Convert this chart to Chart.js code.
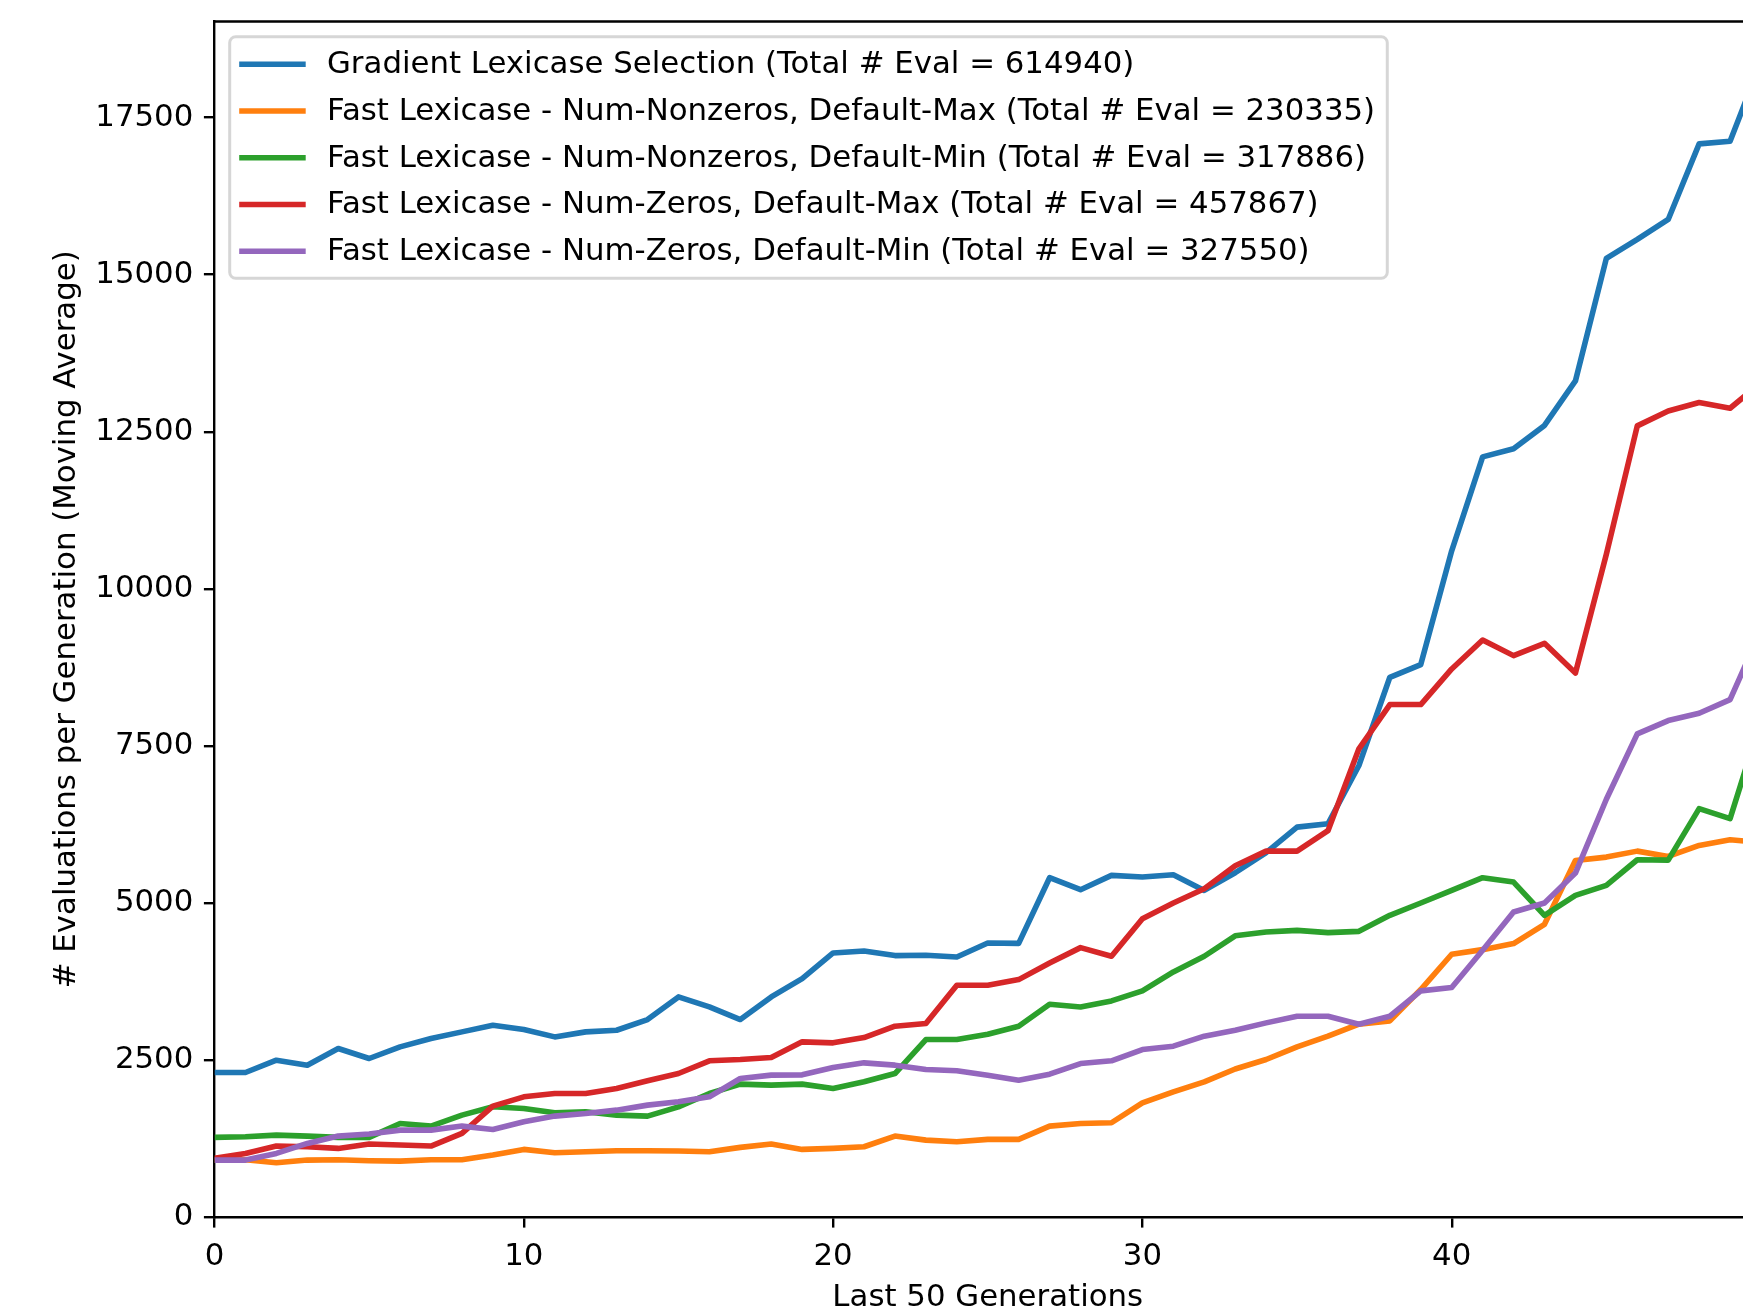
<!DOCTYPE html>
<html>
<head>
<meta charset="utf-8">
<title># Evaluations per Generation</title>
<script src="https://cdn.jsdelivr.net/npm/chart.js@4.4.0/dist/chart.umd.min.js"></script>
<style>
    html, body { margin: 0; padding: 0; background: #fff; overflow: hidden; }
    #wrap { width: 1743px; height: 1316px; overflow: hidden; position: relative; }
    canvas { display: block; }
</style>
</head>
<body>
<div id="wrap"><canvas id="evalChart" width="1800" height="1316"></canvas></div>
<script>
// Generations on the x axis (last 50 generations, the right end is cropped in the original)
const generations = [0, 1, 2, 3, 4, 5, 6, 7, 8, 9, 10, 11, 12, 13, 14, 15, 16, 17, 18, 19, 20,
    21, 22, 23, 24, 25, 26, 27, 28, 29, 30, 31, 32, 33, 34, 35, 36, 37, 38, 39, 40,
    41, 42, 43, 44, 45, 46, 47, 48, 49, 50];

// Series values (# evaluations per generation, moving average)
const gradientLexicase = [2300, 2300, 2496, 2417, 2682, 2523, 2708, 2841, 2947, 3053, 2984,
    2867, 2947, 2973, 3143, 3503, 3344, 3143, 3503, 3795, 4203,
    4235, 4161, 4166, 4139, 4362, 4356, 5401, 5210, 5438, 5411,
    5448, 5199, 5480, 5800, 6206, 6259, 7187, 8591, 8793, 10605,
    12100, 12230, 12600, 13308, 15259, 15561, 15879, 17082, 17124, 18390];

const nonzerosMax = [906, 912, 864, 906, 912, 896, 890, 912, 912, 986, 1076,
    1023, 1039, 1055, 1055, 1050, 1039, 1108, 1161, 1076, 1092,
    1118, 1288, 1224, 1198, 1235, 1235, 1447, 1489, 1500, 1818,
    1993, 2152, 2356, 2507, 2708, 2878, 3069, 3122, 3620, 4182,
    4256, 4352, 4659, 5676, 5729, 5824, 5740, 5915, 6005, 5960];

const nonzerosMin = [1267, 1277, 1304, 1288, 1267, 1267, 1489, 1447, 1622, 1754, 1728,
    1659, 1675, 1622, 1606, 1754, 1966, 2115, 2099, 2115, 2046,
    2152, 2284, 2825, 2825, 2910, 3037, 3387, 3344, 3440, 3599,
    3901, 4150, 4476, 4537, 4563, 4527, 4547, 4802, 4998, 5199,
    5401, 5332, 4802, 5120, 5279, 5687, 5680, 6500, 6340, 7910];

const zerosMax = [933, 1012, 1129, 1118, 1092, 1161, 1145, 1129, 1330, 1765, 1913,
    1966, 1966, 2046, 2168, 2284, 2486, 2507, 2539, 2788, 2772,
    2857, 3037, 3079, 3689, 3689, 3779, 4044, 4288, 4150, 4749,
    4998, 5226, 5590, 5824, 5824, 6150, 7452, 8157, 8157, 8724,
    9185, 8936, 9132, 8660, 10550, 12593, 12831, 12964, 12874, 13280];

const zerosMin = [906, 906, 1012, 1171, 1288, 1320, 1383, 1383, 1447, 1394, 1516,
    1606, 1648, 1701, 1781, 1834, 1913, 2205, 2258, 2263, 2380,
    2454, 2417, 2348, 2327, 2258, 2178, 2274, 2443, 2486, 2666,
    2719, 2878, 2973, 3090, 3196, 3196, 3069, 3196, 3599, 3652,
    4245, 4855, 4998, 5475, 6650, 7690, 7902, 8018, 8236, 9340];

const seriesLabels = [
    'Gradient Lexicase Selection (Total # Eval = 614940)',
    'Fast Lexicase - Num-Nonzeros, Default-Max (Total # Eval = 230335)',
    'Fast Lexicase - Num-Nonzeros, Default-Min (Total # Eval = 317886)',
    'Fast Lexicase - Num-Zeros, Default-Max (Total # Eval = 457867)',
    'Fast Lexicase - Num-Zeros, Default-Min (Total # Eval = 327550)'
];
const seriesValues = [gradientLexicase, nonzerosMax, nonzerosMin, zerosMax, zerosMin];
const seriesColors = ['#1f77b4', '#ff7f0e', '#2ca02c', '#d62728', '#9467bd'];

// Tick labels
const xTicks = [0, 10, 20, 30, 40];
const yTicks = [0, 2500, 5000, 7500, 10000, 12500, 15000, 17500];

const FONT = 'DejaVu Sans';
const FONT_SIZE = 30.8;
const SPINE = 2.4;
const LINE_W = 5.6;

// Top/right spines plus a matplotlib-style boxed legend
const frameAndLegend = {
    id: 'frameAndLegend',
    afterDraw(chart) {
        const { ctx, chartArea: a } = chart;
        ctx.save();

        ctx.strokeStyle = '#000';
        ctx.lineWidth = SPINE;
        ctx.beginPath();
        ctx.moveTo(a.left - SPINE / 2, a.top);
        ctx.lineTo(a.right, a.top);
        ctx.lineTo(a.right, a.bottom);
        ctx.stroke();

        // legend
        ctx.font = `${FONT_SIZE}px "${FONT}"`;
        const datasets = chart.data.datasets;
        const textWidth = Math.max(...datasets.map(d => ctx.measureText(d.label).width));
        const boxLeft = a.left + 15.2;
        const boxTop = a.top + 15.2;
        const textX = boxLeft + 97.3;
        const boxW = 97.3 + textWidth + 12.2;
        const boxH = 241.5;
        const rowPitch = 46.75;

        ctx.beginPath();
        ctx.roundRect(boxLeft, boxTop, boxW, boxH, 6);
        ctx.fillStyle = 'rgba(255,255,255,0.8)';
        ctx.fill();
        ctx.strokeStyle = 'rgba(204,204,204,0.8)';
        ctx.lineWidth = 3;
        ctx.stroke();

        datasets.forEach((d, i) => {
            const cy = boxTop + 27.5 + i * rowPitch;
            ctx.strokeStyle = d.borderColor;
            ctx.lineWidth = LINE_W;
            ctx.lineCap = 'butt';
            ctx.beginPath();
            ctx.moveTo(boxLeft + 9.5, cy);
            ctx.lineTo(boxLeft + 76, cy);
            ctx.stroke();

            ctx.fillStyle = '#000';
            ctx.textAlign = 'left';
            ctx.textBaseline = 'middle';
            ctx.fillText(d.label, textX, cy + 1);
        });

        ctx.restore();
    }
};

const tickFont = { family: FONT, size: FONT_SIZE };

new Chart(document.getElementById('evalChart'), {
    type: 'line',
    data: {
        datasets: seriesValues.map((vals, i) => ({
            label: seriesLabels[i],
            data: generations.map((g, k) => ({ x: g, y: vals[k] })),
            borderColor: seriesColors[i],
            backgroundColor: seriesColors[i],
            borderWidth: LINE_W,
            borderJoinStyle: 'round',
            pointRadius: 0,
            tension: 0,
            fill: false,
            order: seriesValues.length - i  // later series drawn on top, like matplotlib
        }))
    },
    options: {
        responsive: false,
        animation: false,
        devicePixelRatio: 1,
        layout: { padding: { top: 21.5, right: 39, bottom: 0, left: 0 } },
        plugins: {
            legend: { display: false },
            tooltip: { enabled: false }
        },
        scales: {
            x: {
                type: 'linear',
                min: 0,
                max: 50,
                afterBuildTicks: s => { s.ticks = xTicks.map(v => ({ value: v })); },
                afterFit: s => { s.height = 99; s.paddingLeft = 0; s.paddingRight = 0; },
                grid: { drawOnChartArea: false, drawTicks: true, tickLength: 10.6, color: '#000', lineWidth: SPINE },
                border: { display: true, color: '#000', width: SPINE },
                ticks: { color: '#000', font: tickFont, padding: 10.6, maxRotation: 0, autoSkip: false,
                    callback: v => String(v) },
                title: { display: true, text: 'Last 50 Generations', color: '#000', font: tickFont,
                    padding: { top: 0, bottom: 0 } }
            },
            y: {
                type: 'linear',
                min: 0,
                max: 19030,
                afterBuildTicks: s => { s.ticks = yTicks.map(v => ({ value: v })); },
                afterFit: s => { s.width = 214.5; s.paddingTop = 0; s.paddingBottom = 0; },
                grid: { drawOnChartArea: false, drawTicks: true, tickLength: 10.6, color: '#000', lineWidth: SPINE },
                border: { display: true, color: '#000', width: SPINE },
                ticks: { color: '#000', font: tickFont, padding: 10.6, autoSkip: false,
                    callback: v => String(v) },
                title: { display: true, text: '# Evaluations per Generation (Moving Average)', color: '#000',
                    font: tickFont, padding: { top: 49, bottom: 0 } }
            }
        }
    },
    plugins: [frameAndLegend]
});
</script>
</body>
</html>
